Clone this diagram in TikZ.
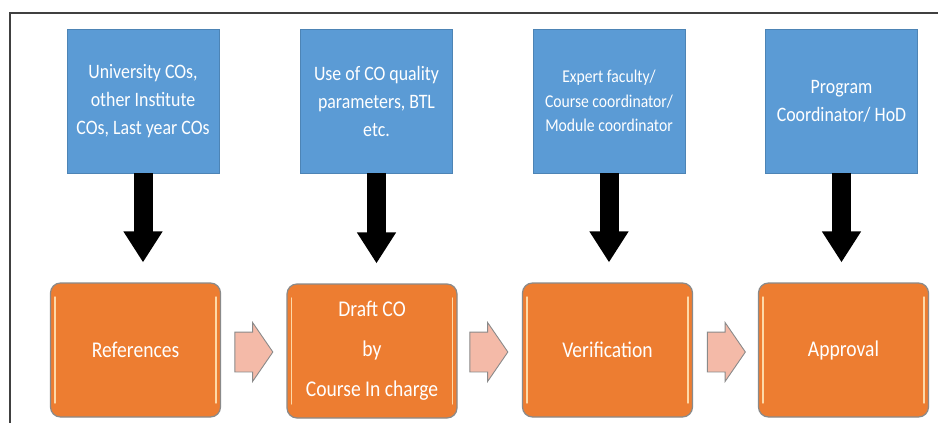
\documentclass[tikz,border=0pt]{standalone}
\usepackage{fontspec}
\newfontfamily\calib[FakeStretch=0.87]{Carlito}
\usetikzlibrary{arrows.meta,shapes.arrows}
\definecolor{boxblue}{HTML}{5B9BD5}
\definecolor{boxorange}{HTML}{ED7D31}
\definecolor{arrowpink}{HTML}{F4BAA8}
\definecolor{framegray}{HTML}{404040}
\definecolor{edgegray}{HTML}{8A8A8A}
\definecolor{shine}{HTML}{FDD9A8}
\tikzset{
  bluebox/.style={rectangle, fill=boxblue, draw=boxblue!85!black, line width=0.6pt,
    minimum width=152pt, minimum height=144pt, inner sep=0pt, align=center,
    text=white, font=\calib\fontsize{20.5}{28}\selectfont},
  orangebox/.style={rectangle, rounded corners=10pt, fill=boxorange, draw=edgegray, line width=1.2pt,
    minimum width=170pt, minimum height=134pt, inner sep=0pt, align=center,
    text=white, font=\calib\fontsize{22.5}{40}\selectfont,
    path picture={
      \draw[shine, line width=1.4pt, line cap=round]
        ([xshift=4.5pt,yshift=-14pt]path picture bounding box.north west) --
        ([xshift=4.5pt,yshift=14pt]path picture bounding box.south west);
      \draw[shine, line width=1.4pt, line cap=round]
        ([xshift=-4.5pt,yshift=-14pt]path picture bounding box.north east) --
        ([xshift=-4.5pt,yshift=14pt]path picture bounding box.south east);
    }},
  pinkarrow/.style={single arrow, fill=arrowpink, draw=edgegray, line width=0.9pt,
    minimum height=38pt, single arrow head extend=9.5pt,
    single arrow tip angle=111, single arrow head indent=0pt, inner sep=0pt},
  downarrow/.style={draw=black, line width=19pt, shorten >=20pt,
    -{Triangle[length=31pt,width=37pt]}}
}
\begin{document}
\begin{tikzpicture}[x=1pt,y=-1pt]
\useasboundingbox (0,0) rectangle (938,423);
\fill[white] (0,0) rectangle (938,423);
\draw[framegray, line width=1.2pt] (10,423) -- (10,13) -- (938,13);

\node[bluebox] (b1) at (143,101) {University COs,\\other Institute\\COs, Last year COs};
\node[bluebox] (b2) at (376.5,101) {Use of CO quality\\parameters, BTL\\etc.};
\node[bluebox, font=\calib\fontsize{18}{24.5}\selectfont] (b3) at (609,101) {Expert faculty/\\Course coordinator/\\Module coordinator};
\node[bluebox] (b4) at (841.5,101) {Program\\Coordinator/ HoD};

\node[orangebox] (o1) at (135.5,350) {References};
\node[orangebox] (o2) at (372,351) {Draft CO\\by\\Course In charge};
\node[orangebox] (o3) at (607.5,350) {Verification};
\node[orangebox] (o4) at (843.5,350) {Approval};

\node[pinkarrow] (p1) at (247,352) {\rule{0pt}{39pt}};
\node[pinkarrow] (p2) at (482,352) {\rule{0pt}{39pt}};
\node[pinkarrow] (p3) at (719.5,352) {\rule{0pt}{39pt}};

\draw[downarrow] (b1.south) -- (b1.south |- o1.north);
\draw[downarrow] (b2.south) -- (b2.south |- o2.north);
\draw[downarrow] (b3.south) -- (b3.south |- o3.north);
\draw[downarrow] (b4.south) -- (b4.south |- o4.north);
\end{tikzpicture}
\end{document}
